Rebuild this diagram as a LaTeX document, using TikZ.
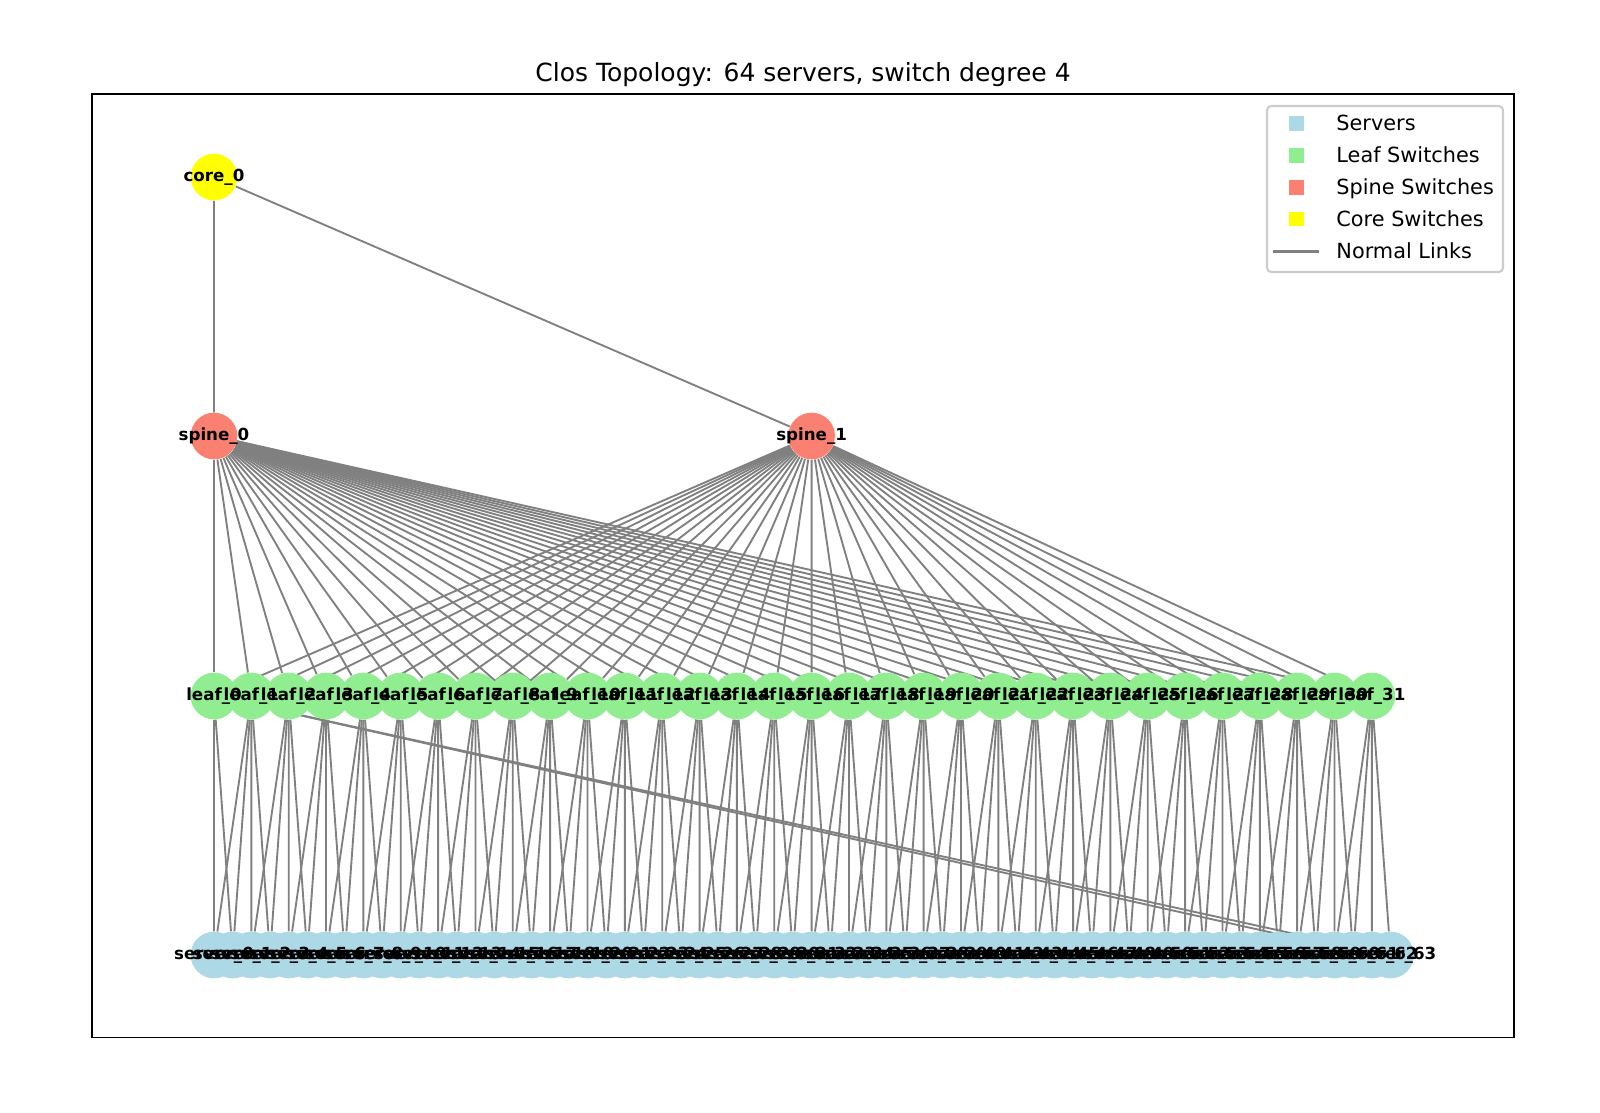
\documentclass[tikz,border=0pt]{standalone}
\usepackage{fontspec}
\setmainfont{DejaVu Sans}

\definecolor{srvblue}{HTML}{ADD8E6}
\definecolor{leafgreen}{HTML}{90EE90}
\definecolor{spinered}{HTML}{FA8072}
\definecolor{coreyellow}{HTML}{FFFF00}
\definecolor{linkgray}{HTML}{808080}
\definecolor{legframe}{HTML}{CCCCCC}

\pgfdeclarelayer{links}
\pgfdeclarelayer{labels}
\pgfsetlayers{links,main,labels}

\begin{document}
\begin{tikzpicture}[x=0.48pt,y=-0.48pt,
    dev/.style={circle,inner sep=0pt,minimum size=22.4pt},
    tag/.style={font=\fontsize{8}{9}\selectfont\bfseries,inner sep=0pt},
    link/.style={linkgray,line width=0.9pt},
    key/.style={inner sep=0pt,minimum size=7pt},
    keytext/.style={anchor=base west,font=\fontsize{10}{12}\selectfont,inner sep=0pt}]
        \useasboundingbox (0,0) rectangle (1600,1112);
        % axes frame and title
        \draw[line width=0.8pt] (92,94) rectangle (1514,1037.5);
        \node[anchor=base,font=\fontsize{12}{14}\selectfont,inner sep=0pt] (title) at (803,81.5) {Clos Topology: 64 servers, switch degree 4};
        % devices
        \node[dev,fill=coreyellow] (core0) at (214,177) {};
        \foreach \j in {0,1}
            \node[dev,fill=spinered] (spine\j) at ({214+597.6*\j},436) {};
        \foreach \i in {0,...,31}
            \node[dev,fill=leafgreen] (leaf\i) at ({214+37.35*\i},696) {};
        \foreach \s in {0,...,63}
            \node[dev,fill=srvblue] (srv\s) at ({214+18.675*\s},955) {};
        % links
        \begin{pgfonlayer}{links}
            \draw[link] (core0) -- (spine0) (core0) -- (spine1);
            \foreach \j in {0,1}
                \foreach \i in {0,...,31}
                    \draw[link] (spine\j) -- (leaf\i);
            \foreach \s in {0,...,63} {
                \pgfmathtruncatemacro\la{\s/2}
                \pgfmathtruncatemacro\lb{mod(\la+1,32)}
                \draw[link] (leaf\la) -- (srv\s) (leaf\lb) -- (srv\s);
            }
        \end{pgfonlayer}
        % labels
        \begin{pgfonlayer}{labels}
            \node[tag] (core0-t) at (core0) {core\_0};
            \foreach \j in {0,1}
                \node[tag] (spine\j-t) at (spine\j) {spine\_\j};
            \foreach \i in {0,...,31}
                \node[tag] (leaf\i-t) at (leaf\i) {leaf\_\i};
            \foreach \s in {0,...,63}
                \node[tag] (srv\s-t) at (srv\s) {server\_\s};
        \end{pgfonlayer}
        % legend
        \draw[draw=legframe,fill=white,fill opacity=0.8,rounded corners=2pt,line width=1pt] (1267,106) rectangle (1503,272);
        \foreach \y/\c/\t [count=\k] in {123.5/srvblue/Servers,155.4/leafgreen/Leaf Switches,187.3/spinered/Spine Switches,219.2/coreyellow/Core Switches} {
            \node[key,fill=\c] (key\k) at (1296.7,\y) {};
            \node[keytext] (keytext\k) at (1336,\y+7.4) {\t};
        }
        \coordinate (linkA) at (1273,251.1);
        \coordinate (linkB) at (1319,251.1);
        \draw[linkgray,line width=1.5pt] (linkA) -- (linkB);
        \node[keytext] (keytext5) at (1336,258.5) {Normal Links};
    \end{tikzpicture}
\end{document}
